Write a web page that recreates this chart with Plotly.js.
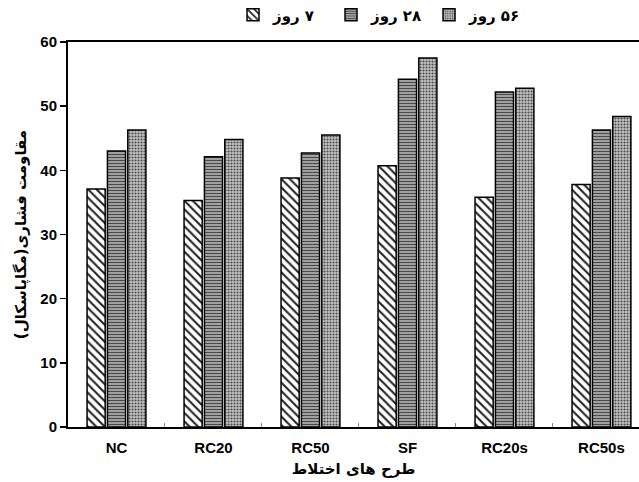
<!DOCTYPE html>
<html>
<head>
<meta charset="utf-8">
<script src="https://cdn.plot.ly/plotly-3.0.1.min.js"></script>
<style>html,body{margin:0;padding:0;background:#fff;}#chart{width:639px;height:482px;}</style>
</head>
<body>
<div id="chart"></div>
<script>
const categories = ["NC", "RC20", "RC50", "SF", "RC20s", "RC50s"];
const seriesNames = ["\u200F۷ روز", "\u200F۲۸ روز", "\u200F۵۶ روز"];
const days7 = [37.1, 35.3, 38.8, 40.7, 35.8, 37.8];
const days28 = [43.0, 42.1, 42.7, 54.2, 52.2, 46.3];
const days56 = [46.3, 44.8, 45.5, 57.5, 52.8, 48.4];
const yTicks = [0, 10, 20, 30, 40, 50, 60];

const patterns = [
  {shape: "\\", bgcolor: "#ffffff", fgcolor: "#222222", size: 6, solidity: 0.35},
  {shape: "-", bgcolor: "#eeeeee", fgcolor: "#4a4a4a", size: 3, solidity: 0.65},
  {shape: ".", bgcolor: "#c4c4c4", fgcolor: "#4a4a4a", size: 3, solidity: 0.4}
];
const values = [days7, days28, days56];

const traces = values.map((v, i) => ({
  type: "bar",
  name: seriesNames[i],
  x: categories,
  y: v,
  marker: {
    color: patterns[i].bgcolor,
    pattern: patterns[i],
    line: {color: "#000", width: 1.5}
  }
}));

const tickFont = {family: "Liberation Sans, Arial, sans-serif", size: 15, color: "#000", weight: "bold"};
const faFont = {family: "DejaVu Sans, Noto Sans, sans-serif", size: 15, color: "#000", weight: "bold"};

const layout = {
  width: 639,
  height: 482,
  margin: {l: 68, r: 0, t: 42, b: 55, autoexpand: false},
  paper_bgcolor: "#fff",
  plot_bgcolor: "#fff",
  barmode: "group",
  bargap: 0.37,
  bargroupgap: 0.11,
  showlegend: true,
  legend: {
    orientation: "h",
    x: 0.289, xanchor: "left",
    y: 1.07, yanchor: "middle",
    font: faFont,
    traceorder: "normal",
    itemwidth: 30,
    entrywidth: 53,
    entrywidthmode: "pixels"
  },
  xaxis: {
    type: "category",
    range: [-0.5, 5.387],
    showline: true, linecolor: "#000", linewidth: 2,
    mirror: true,
    ticks: "inside", tickson: "boundaries", ticklen: 4, tickcolor: "#888", tickwidth: 1,
    tickfont: tickFont,
    ticklabelstandoff: 6,
    showgrid: false,
    zeroline: false,
    title: {text: "طرح های اختلاط", font: faFont, standoff: 8}
  },
  yaxis: {
    range: [0, 60],
    tickvals: yTicks,
    ticktext: yTicks.map(String),
    showline: true, linecolor: "#000", linewidth: 2,
    ticks: "outside", ticklen: 6, tickcolor: "#000", tickwidth: 1.5,
    tickfont: tickFont,
    showgrid: false,
    zeroline: false,
    title: {text: "مقاومت فشاری(مگاپاسکال)\u200F", font: faFont, standoff: 10}
  }
};

Plotly.newPlot("chart", traces, layout, {displayModeBar: false, staticPlot: true});
</script>
</body>
</html>
